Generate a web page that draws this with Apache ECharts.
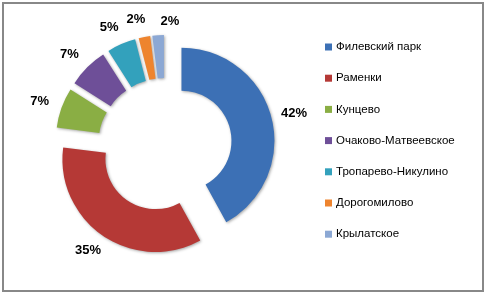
<!DOCTYPE html>
<html><head><meta charset="utf-8">
<script src="https://cdn.jsdelivr.net/npm/echarts@6/dist/echarts.min.js"></script>
<style>
html,body{margin:0;padding:0;background:#fff;}
#frame{position:absolute;left:2px;top:2px;width:478px;height:286px;border:2px solid #888;}
#c{position:absolute;left:0;top:0;width:485px;height:293px;}
</style></head>
<body><div id="frame"></div><div id="c"></div>
<script>
const categories = ['Филевский парк','Раменки','Кунцево','Очаково-Матвеевское','Тропарево-Никулино','Дорогомилово','Крылатское'];
const values = [42, 35, 7, 7, 5, 2, 2];
const colors = ['#3C70B5','#B53936','#8AAE44','#6E4F98','#33A1BC','#EE842E','#8CA8D4'];

const chart = echarts.init(document.getElementById('c'));
const data = categories.map((n,i)=>({name:n, value:values[i], selected:true,
  itemStyle:{color:colors[i]}}));
const lastIndex = values.length - 1;
chart.setOption({
  animation:false,
  legend:{
    orient:'vertical', left:320, top:36, itemGap:19.2,
    icon:'rect', itemWidth:7, itemHeight:7,
    selectedMode:false,
    textStyle:{fontFamily:'Liberation Sans', fontSize:11.5, color:'#000', padding:[0,0,0,-1]},
    data:categories
  },
  series:[{
    type:'pie',
    center:[165,145], radius:[50,93],
    startAngle:90, clockwise:true,
    selectedMode:'multiple', selectedOffset:17,
    avoidLabelOverlap:false,
    labelLayout:function(p){
      const o = {align:'center', verticalAlign:'middle', hideOverlap:false};
      if (p.dataIndex === lastIndex) { o.dx = 18; o.dy = 4; }
      return o;
    },
    itemStyle:{shadowBlur:3, shadowColor:'rgba(0,0,0,0.35)', shadowOffsetX:1, shadowOffsetY:1},
    label:{show:true, position:'outside', formatter:'{c}%',
      fontFamily:'Liberation Sans', fontWeight:'bold', fontSize:13, color:'#000'},
    labelLine:{show:false, length:18, length2:0},
    emphasis:{disabled:true},
    data:data
  }]
});
</script></body></html>
